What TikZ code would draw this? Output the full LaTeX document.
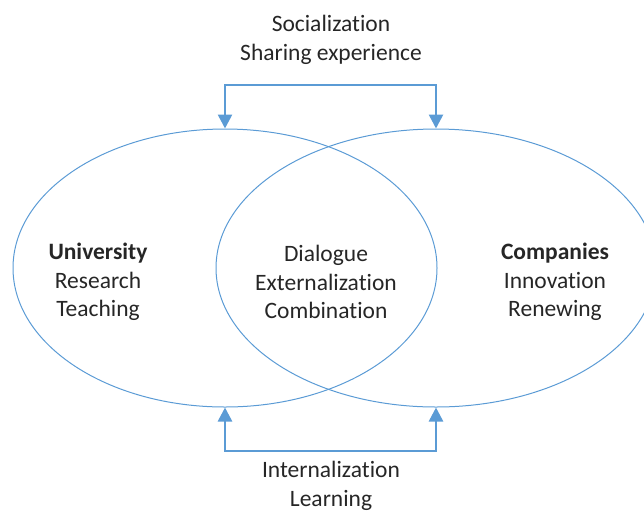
\documentclass[tikz,border=0pt]{standalone}
\usepackage{fontspec}
\setmainfont{Carlito}[Ligatures=NoCommon]
\usetikzlibrary{shapes.geometric,arrows.meta}
\definecolor{lineblue}{RGB}{91,155,213}
\definecolor{txt}{RGB}{38,38,38}
\tikzset{
  venn/.style={ellipse, draw=lineblue, line width=1pt, minimum height=278pt, inner sep=0pt},
  lbl/.style={align=center, text=txt, font=\fontsize{23.5}{28.5}\selectfont, inner sep=0pt},
  link/.style={draw=lineblue, line width=2.6pt, {Triangle[width=14pt,length=14pt]}-{Triangle[width=14pt,length=14pt]}}
}
\begin{document}
\begin{tikzpicture}[x=1pt,y=-1pt]
\useasboundingbox (0,0) rectangle (644,512);
\clip (0,0) rectangle (644,512);
\node[venn, minimum width=424pt] (L) at (225,268) {};
\node[venn, minimum width=440pt] (R) at (436,268) {};
\coordinate (top) at (331,85);
\coordinate (bot) at (331,451);
\draw[link] (L.north) -- (L.north |- top) -- (R.north |- top) -- (R.north);
\draw[link] (L.south) -- (L.south |- bot) -- (R.south |- bot) -- (R.south);
\node[lbl] (soc) at (331,40) {Socialization\\Sharing experience};
\node[lbl] (mid) at (326,282) {Dialogue\\Externalization\\Combination};
\node[lbl] (uni) at (98,282) {\textbf{University}\\Research\\Teaching};
\node[lbl] (com) at (555,282) {\textbf{Companies}\\Innovation\\Renewing};
\node[lbl] (int) at (331,486) {Internalization\\Learning};
\end{tikzpicture}
\end{document}
